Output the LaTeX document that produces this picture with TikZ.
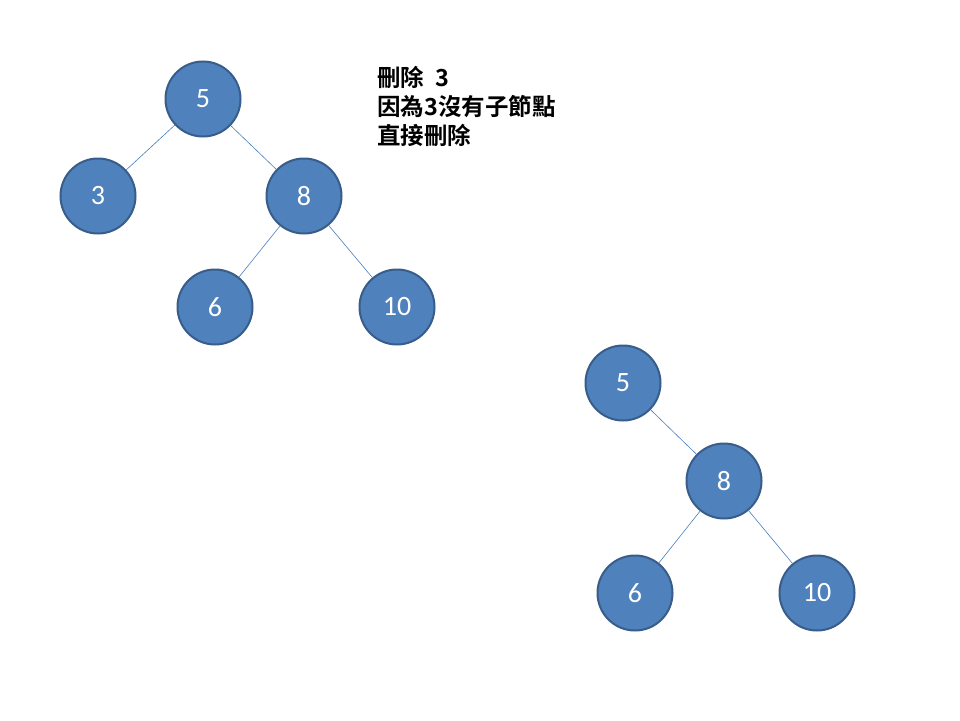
\documentclass[tikz,border=0pt]{standalone}
\usepackage{fontspec}
\setmainfont{Carlito}
\newfontfamily\cjk{Noto Sans CJK TC Bold}
\definecolor{nodefill}{HTML}{4F81BD}
\definecolor{nodeborder}{HTML}{385D8A}
\definecolor{edgecol}{HTML}{4A7EBB}
\tikzset{
  treenode/.style={circle, fill=nodefill, draw=nodeborder, line width=2pt, minimum size=75pt, inner sep=0pt, text=white, font=\fontsize{28}{32}\selectfont},
  treeedge/.style={draw=edgecol, line width=0.6pt},
  note/.style={anchor=north west, align=left, inner sep=0pt, font=\cjk\fontsize{23.5}{29}\selectfont}
}
\begin{document}
\begin{tikzpicture}[x=1pt,y=-1pt]
\useasboundingbox (0,0) rectangle (960,720);
\fill[white] (0,0) rectangle (960,720);
% tree 1
\node[treenode] (a5) at (203,99) {5};
\node[treenode] (a3) at (98,196) {3};
\node[treenode] (a8) at (304,196) {8};
\node[treenode] (a6) at (215,307) {6};
\node[treenode] (a10) at (397,307) {10};
\draw[treeedge] (a5) -- (a3);
\draw[treeedge] (a5) -- (a8);
\draw[treeedge] (a8) -- (a6);
\draw[treeedge] (a8) -- (a10);
% tree 2
\node[treenode] (b5) at (623,383) {5};
\node[treenode] (b8) at (724,481) {8};
\node[treenode] (b6) at (635,593) {6};
\node[treenode] (b10) at (817,593) {10};
\draw[treeedge] (b5) -- (b8);
\draw[treeedge] (b8) -- (b6);
\draw[treeedge] (b8) -- (b10);
% note
\node[note] (txt) at (377,66) {刪除\hspace{0.5em}3\\因為3沒有子節點\\直接刪除};
\end{tikzpicture}
\end{document}
